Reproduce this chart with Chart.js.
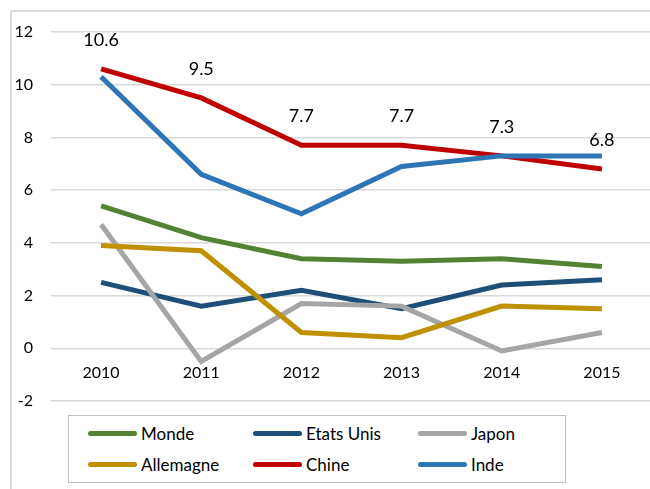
<!DOCTYPE html>
<html>
<head>
<meta charset="utf-8">
<script src="https://cdn.jsdelivr.net/npm/chart.js@4/dist/chart.umd.min.js"></script>
<style>
    body { margin: 0; background: #fff; overflow: hidden; }
    #wrap { position: relative; width: 650px; height: 489px; overflow: hidden; }
    #frame { position: absolute; left: 10px; top: 10px; width: 700px; height: 600px; border: 2px solid #d9d9d9; box-sizing: border-box; }
    #chart { position: absolute; left: 0; top: 0; }
    #legend { position: absolute; left: 68px; top: 415px; width: 498px; height: 68px; border: 1.5px solid #bfbfbf; box-sizing: border-box; background: #fff; }
    .item { position: absolute; font-family: Lato, sans-serif; font-size: 17px; color: #000; line-height: 20px; }
    .item span.sw { position: absolute; left: 0; top: 7px; width: 49px; height: 5px; border-radius: 3px; }
    .item span.tx { position: absolute; left: 53px; top: 0; white-space: nowrap; }
</style>
</head>
<body>
<div id="wrap">
    <div id="frame"></div>
    <canvas id="chart" width="700" height="489" style="width:700px;height:489px"></canvas>
    <div id="legend"></div>
</div>
<script>
// ================== Données ==================
const years = ["2010", "2011", "2012", "2013", "2014", "2015"];
const monde = [5.4, 4.2, 3.4, 3.3, 3.4, 3.1];
const etatsUnis = [2.5, 1.6, 2.2, 1.5, 2.4, 2.6];
const japon = [4.7, -0.5, 1.7, 1.6, -0.1, 0.6];
const allemagne = [3.9, 3.7, 0.6, 0.4, 1.6, 1.5];
const chine = [10.6, 9.5, 7.7, 7.7, 7.3, 6.8];
const inde = [10.3, 6.6, 5.1, 6.9, 7.3, 7.3];

const seriesNames = ["Monde", "Etats Unis", "Japon", "Allemagne", "Chine", "Inde"];
const seriesColors = ["#548235", "#1f4e79", "#a5a5a5", "#bf9000", "#c00000", "#2e75b6"];
const seriesData = [monde, etatsUnis, japon, allemagne, chine, inde];

Chart.defaults.font.family = "Lato, sans-serif";
Chart.defaults.color = "#000";

// étiquettes au-dessus de la série Chine
const chineLabels = {
    id: "chineLabels",
    afterDatasetsDraw(chart) {
        const ctx = chart.ctx;
        const meta = chart.getDatasetMeta(4);
        ctx.save();
        ctx.font = "18px Lato, sans-serif";
        ctx.fillStyle = "#000";
        ctx.textAlign = "center";
        ctx.textBaseline = "middle";
        meta.data.forEach((pt, i) => {
            ctx.fillText(chine[i].toFixed(1), pt.x, pt.y - 29);
        });
        ctx.restore();
    }
};

new Chart(document.getElementById("chart"), {
    type: "line",
    data: {
        labels: years,
        datasets: seriesNames.map((name, i) => ({
            label: name,
            data: seriesData[i],
            borderColor: seriesColors[i],
            backgroundColor: seriesColors[i],
            borderWidth: 5,
            tension: 0,
            pointRadius: 0,
            order: seriesNames.length - i
        }))
    },
    options: {
        responsive: false,
        animation: false,
        layout: { padding: { top: 32, right: 48, bottom: 88, left: 0 } },
        plugins: { legend: { display: false }, tooltip: { enabled: false } },
        scales: {
            x: {
                position: { y: 0 },
                offset: true,
                grid: { display: false, drawTicks: false },
                border: { display: false },
                ticks: { font: { size: 16 }, padding: 15, maxRotation: 0 }
            },
            y: {
                min: -2,
                max: 12,
                ticks: { stepSize: 2, font: { size: 16 }, padding: 18 },
                grid: { color: "#d9d9d9", lineWidth: 1.5, drawTicks: false },
                border: { display: false },
                afterFit(scale) { scale.width = 51; }
            }
        }
    },
    plugins: [chineLabels]
});

// ================== Légende ==================
const legend = document.getElementById("legend");
const colX = [19, 184, 349];
const rowY = [8, 39];
seriesNames.forEach((name, i) => {
    const item = document.createElement("div");
    item.className = "item";
    item.style.left = colX[i % 3] + "px";
    item.style.top = rowY[Math.floor(i / 3)] + "px";
    item.innerHTML = `<span class="sw" style="background:${seriesColors[i]}"></span><span class="tx">${name}</span>`;
    legend.appendChild(item);
});
</script>
</body>
</html>
